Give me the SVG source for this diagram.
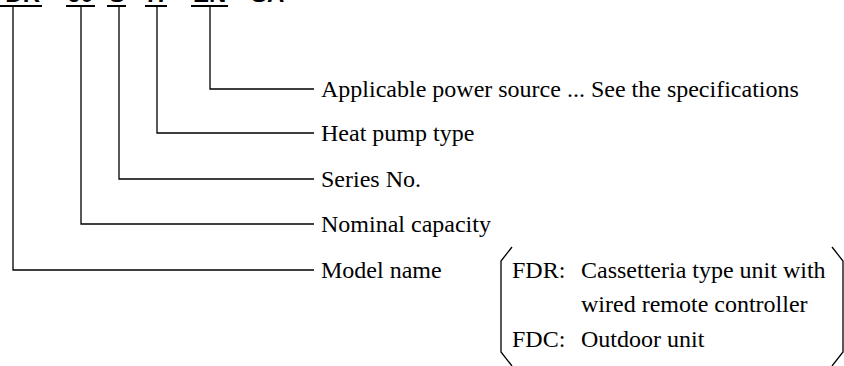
<svg xmlns="http://www.w3.org/2000/svg" width="844" height="366" viewBox="0 0 844 366">
<style>
.code{font-family:"Liberation Sans",Arial,sans-serif;font-weight:bold;font-size:24px;fill:#000}
.lbl{font-family:"Liberation Serif","Times New Roman",serif;font-size:24px;fill:#000}
.ln{fill:none;stroke:#000;stroke-width:1.3}
.ul{fill:none;stroke:#000;stroke-width:2.2}
</style>
<rect width="844" height="366" fill="#fff"/>
<g id="code">
<text class="code" x="40" y="2" text-anchor="end">FDR</text>
<text class="code" x="67" y="2">60</text>
<text class="code" x="109" y="2">S</text>
<text class="code" x="147" y="2">H</text>
<text class="code" x="193" y="2">EN</text>
<text class="code" x="251" y="2">SA</text>
<path class="ul" d="M0 6H42M66 6H95M107 6H126M145 6H167M191 6H228"/>
</g>
<g id="connectors">
<path class="ln" d="M210 6V89H314"/>
<path class="ln" d="M157 6V133H314"/>
<path class="ln" d="M119 6V179H314"/>
<path class="ln" d="M81 6V224H314"/>
<path class="ln" d="M13 6V270H314"/>
</g>
<g id="power"><text class="lbl" x="321" y="97">Applicable power source ... See the specifications</text></g>
<g id="heatpump"><text class="lbl" x="321" y="141">Heat pump type</text></g>
<g id="series"><text class="lbl" x="321" y="187">Series No.</text></g>
<g id="capacity"><text class="lbl" x="321" y="232">Nominal capacity</text></g>
<g id="model"><text class="lbl" x="321" y="278">Model name</text></g>
<g id="modelnote">
<path class="ln" d="M512 247L501 261V352L512 366"/>
<path class="ln" d="M832 247L843 261V352L832 366"/>
<text class="lbl" x="512" y="278">FDR:</text>
<text class="lbl" x="581" y="278">Cassetteria type unit with</text>
<text class="lbl" x="581" y="312">wired remote controller</text>
<text class="lbl" x="512" y="347">FDC:</text>
<text class="lbl" x="581" y="347">Outdoor unit</text>
</g>
</svg>
